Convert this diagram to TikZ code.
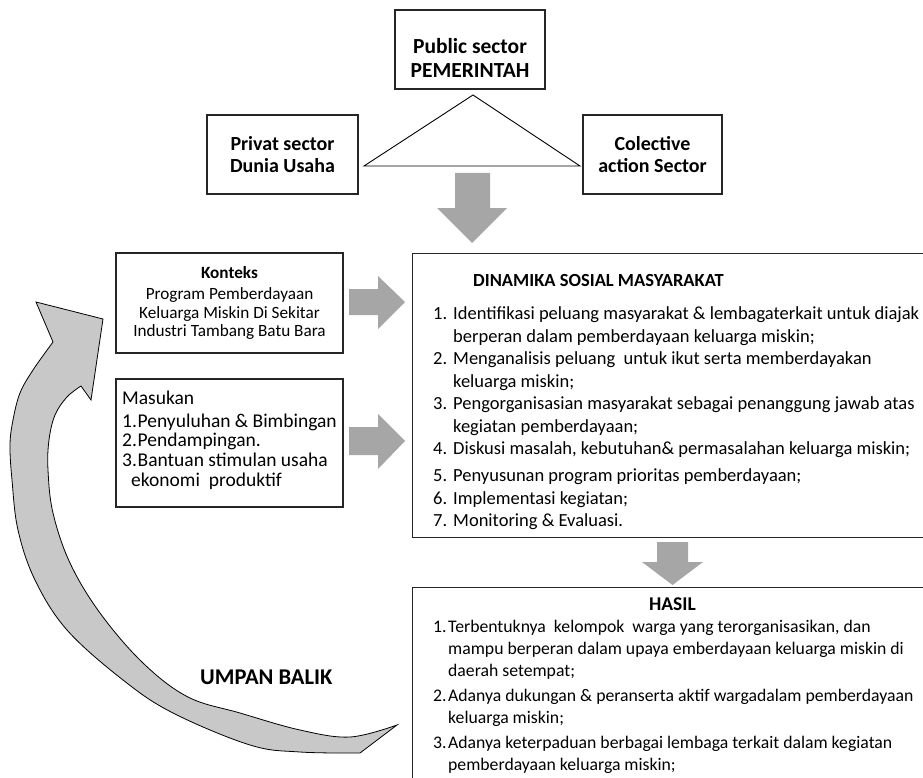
\documentclass[tikz,border=0pt]{standalone}
\usepackage{fontspec}
\setmainfont{Carlito}
\usetikzlibrary{positioning}
\definecolor{arrowgray}{RGB}{166,166,166}
\definecolor{curvegray}{RGB}{200,200,200}
\newcommand{\numbox}[2][20pt]{\makebox[#1][l]{#2}}

\begin{document}
\begin{tikzpicture}[x=1pt, y=-1pt,
    box/.style={rectangle, draw=black!85, line width=1.1pt, fill=white, inner sep=0pt},
    head/.style={font=\bfseries\fontsize{20}{22}\selectfont, align=center},
    body/.style={font=\fontsize{18.5}{22.5}\selectfont, align=left, inner sep=0pt, anchor=north west},
    blockarrow/.style={fill=arrowgray, draw=none},
    ]
        \useasboundingbox (0,0) rectangle (923,778);
        \clip (0,0) rectangle (923,778);

        % three sectors
        \node[box, minimum width=150pt, minimum height=79pt] (pub) at (470,49.5) {};
        \node[head, font=\bfseries\fontsize{21.5}{24}\selectfont] (pubtext) at (470,57.5) {Public sector\\PEMERINTAH};
        \node[box, head, minimum width=151pt, minimum height=79pt] (privat) at (282.5,154.5) {Privat sector\\Dunia Usaha};
        \node[box, head, minimum width=139pt, minimum height=79pt] (colective) at (652.5,154.5) {Colective\\action Sector};
        \draw[black, line width=0.9pt] (473,95) -- (364,166) -- (580,166) -- cycle;

        \fill[blockarrow] (455,173) -- (490,173) -- (490,208) -- (507,208) -- (472,243) -- (437,208) -- (455,208) -- cycle;

        % feedback arrow
        \draw[fill=curvegray, draw=black, line width=0.8pt]
            plot[smooth, tension=0.6] coordinates {(397,725) (350,737) (300,730) (240,713) (188,697) (143,663) (100,613) (70,563) (53,513) (48,470) (49,440) (55,415) (67,397) (81,386)}
            -- (91,400) -- (103,319) -- (36,302) -- (53,342)
            -- plot[smooth, tension=0.6] coordinates {(53,342) (33,370) (20,393) (13,420) (10,445) (12,480) (18,530) (35,580) (67,630) (123,680) (173,713) (250,745) (300,752) (360,753)}
            -- cycle;
        \node[font=\bfseries\fontsize{22.5}{24}\selectfont, anchor=base west, inner sep=0pt] (umpan) at (200,684) {UMPAN BALIK};

        % left boxes
        \node[box, minimum width=227pt, minimum height=100pt, align=center, font=\fontsize{17.2}{18.5}\selectfont] (konteks) at (229.5,303)
            {\textbf{Konteks}\\[2.5pt]
             Program Pemberdayaan\\
             Keluarga Miskin Di Sekitar\\
             Industri Tambang Batu Bara};
        \node[box, minimum width=227pt, minimum height=128pt] (masukan) at (229.5,443) {};
        \node[body, font=\fontsize{19.5}{19.8}\selectfont] (masukantext) at (122,390.5)
            {Masukan\\[3pt]
             \numbox[15.5pt]{1.}Penyuluhan \& Bimbingan\\
             \numbox[15.5pt]{2.}Pendampingan.\\
             \numbox[15.5pt]{3.}Bantuan stimulan usaha\\
             \hspace*{9pt}ekonomi~ produktif};

        \fill[blockarrow] (349,289) -- (378,289) -- (378,276) -- (405,302) -- (378,329) -- (378,315) -- (349,315) -- cycle;
        \fill[blockarrow] (349,427) -- (378,427) -- (378,414) -- (405,441) -- (378,469) -- (378,455) -- (349,455) -- cycle;

        % dinamika
        \node[box, minimum width=530pt, minimum height=284pt, anchor=north west] (dinamika) at (412,253) {};
        \node[font=\bfseries\fontsize{18.5}{22}\selectfont, anchor=base west, inner sep=0pt] (dintitle) at (473,286) {DINAMIKA SOSIAL MASYARAKAT};
        \node[body] (dinlist) at (433,306.5)
            {\numbox{1.}Identifikasi peluang masyarakat \& lembagaterkait untuk diajak\\
             \hspace*{20pt}berperan dalam pemberdayaan keluarga miskin;\\
             \numbox{2.}Menganalisis peluang~ untuk ikut serta memberdayakan\\
             \hspace*{20pt}keluarga miskin;\\
             \numbox{3.}Pengorganisasian masyarakat sebagai penanggung jawab atas\\
             \hspace*{20pt}kegiatan pemberdayaan;\\
             \numbox{4.}Diskusi masalah, kebutuhan\& permasalahan keluarga miskin;\\[4.5pt]
             \numbox{5.}Penyusunan program prioritas pemberdayaan;\\
             \numbox{6.}Implementasi kegiatan;\\
             \numbox{7.}Monitoring \& Evaluasi.};

        \fill[blockarrow] (657,542) -- (688,542) -- (688,562) -- (703,562) -- (672.5,585) -- (642,562) -- (657,562) -- cycle;

        % hasil
        \node[box, minimum width=530pt, minimum height=220pt, anchor=north west] (hasil) at (412,587) {};
        \node[font=\bfseries\fontsize{19.5}{22}\selectfont, anchor=base, inner sep=0pt] (hasiltitle) at (672.5,610) {HASIL};
        \node[body, font=\fontsize{17.7}{22}\selectfont] (hasillist) at (433,620.5)
            {\numbox[15pt]{1.}Terbentuknya~ kelompok~ warga yang terorganisasikan, dan\\
             \hspace*{15pt}mampu berperan dalam upaya emberdayaan keluarga miskin di\\
             \hspace*{15pt}daerah setempat;\\[3pt]
             \numbox[15pt]{2.}Adanya dukungan \& peranserta aktif wargadalam pemberdayaan\\
             \hspace*{15pt}keluarga miskin;\\[3pt]
             \numbox[15pt]{3.}Adanya keterpaduan berbagai lembaga terkait dalam kegiatan\\
             \hspace*{15pt}pemberdayaan keluarga miskin;};
\end{tikzpicture}
\end{document}
